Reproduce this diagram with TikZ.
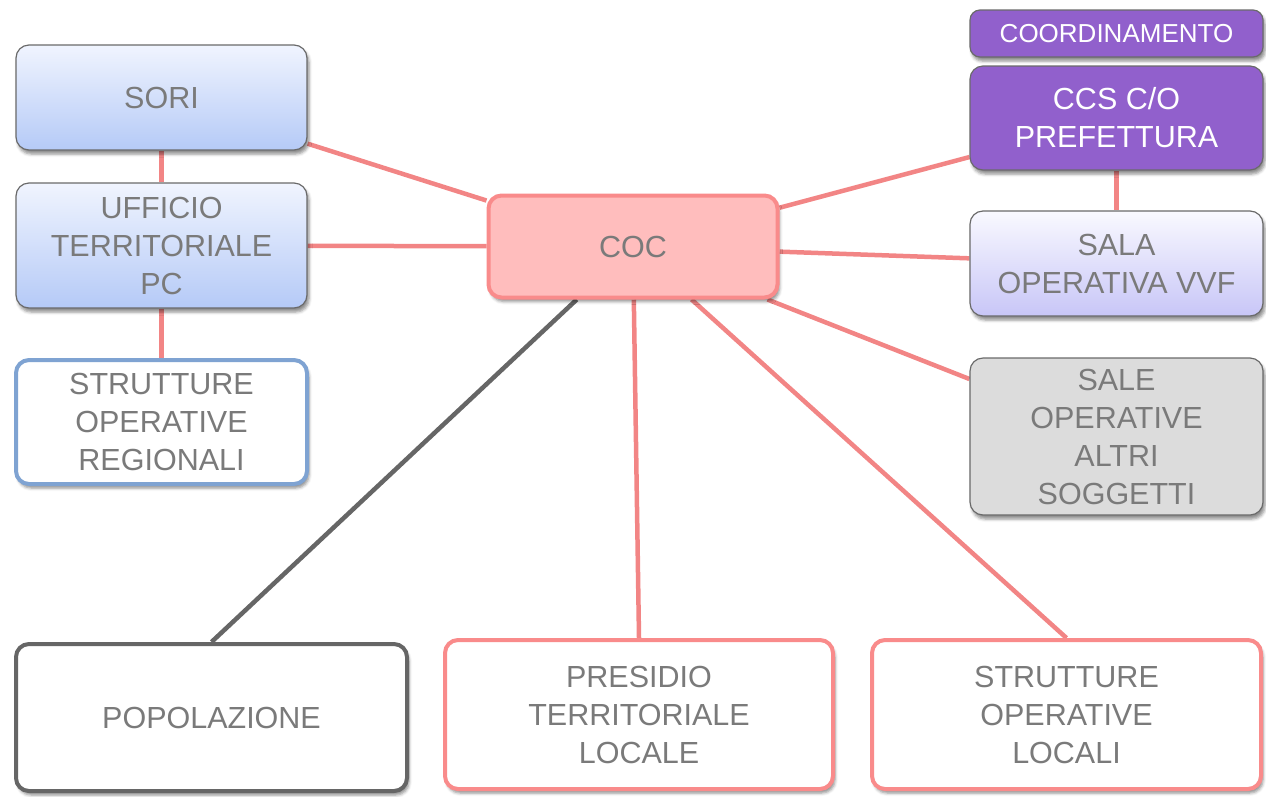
\documentclass[tikz,border=0pt]{standalone}
\usepackage{fontspec}
\setmainfont{Liberation Sans}
\usetikzlibrary{shadows,shadows.blur,backgrounds}
\definecolor{txt}{HTML}{7A7A7A}
\definecolor{pinkline}{HTML}{F28585}
\definecolor{pinkfill}{HTML}{FFBDBD}
\definecolor{pinkborder}{HTML}{F98B8B}
\definecolor{bluetop}{HTML}{F0F4FE}
\definecolor{bluebot}{HTML}{B5CAF7}
\definecolor{blueborder}{HTML}{7FA3D2}
\definecolor{lavtop}{HTML}{F9F9FF}
\definecolor{lavbot}{HTML}{C8C6F7}
\definecolor{purp}{HTML}{9160CC}
\definecolor{greyfill}{HTML}{DCDCDC}
\definecolor{thinborder}{HTML}{6A6A6A}
\definecolor{darkline}{HTML}{666666}
\tikzset{
  box/.style={rounded corners=13pt, inner sep=0pt, align=center, text=txt,
    font=\fontsize{30.5}{38}\selectfont,
    blur shadow={shadow xshift=2pt, shadow yshift=-4pt, shadow blur radius=3pt, shadow opacity=45}},
  thinbox/.style={box, draw=thinborder, line width=1.2pt},
  thickbox/.style={box, line width=4pt, fill=white},
  conn/.style={draw=pinkline, line width=4.5pt},
  darkconn/.style={draw=darkline, line width=4.5pt},
}
\begin{document}
\begin{tikzpicture}[x=1pt,y=-1pt]
\useasboundingbox (0,0) rectangle (1266,796);
% nodes
\node[thinbox, top color=bluetop, bottom color=bluebot, minimum width=291pt, minimum height=105pt] (sori) at (161.5,97.5) {SORI};
\node[thinbox, top color=bluetop, bottom color=bluebot, minimum width=291pt, minimum height=125pt] (uff) at (161.5,245.5) {UFFICIO\\TERRITORIALE\\PC};
\node[thickbox, draw=blueborder, minimum width=291pt, minimum height=124pt] (sor) at (161.5,422) {STRUTTURE\\OPERATIVE\\REGIONALI};
\node[thickbox, draw=pinkborder, fill=pinkfill, minimum width=289pt, minimum height=102pt] (coc) at (633,246.5) {COC};
\node[thinbox, fill=purp, text=white, font=\fontsize{26}{30}\selectfont, rounded corners=10pt, minimum width=293pt, minimum height=47pt] (coord) at (1116.5,33.5) {COORDINAMENTO};
\node[thinbox, fill=purp, text=white, minimum width=293pt, minimum height=104pt] (ccs) at (1116.5,118) {CCS C/O\\PREFETTURA};
\node[thinbox, top color=lavtop, bottom color=lavbot, minimum width=293pt, minimum height=105pt] (sala) at (1116.5,263.5) {SALA\\OPERATIVA VVF};
\node[thinbox, fill=greyfill, minimum width=293pt, minimum height=157pt] (sale) at (1116.5,436.5) {SALE\\OPERATIVE\\ALTRI\\SOGGETTI};
\node[thickbox, draw=darkline, minimum width=391pt, minimum height=147pt] (pop) at (211.5,717.5) {POPOLAZIONE};
\node[thickbox, draw=pinkborder, minimum width=388pt, minimum height=149pt] (pres) at (639,714.5) {PRESIDIO\\TERRITORIALE\\LOCALE};
\node[thickbox, draw=pinkborder, minimum width=389pt, minimum height=149pt] (sol) at (1066.5,714.5) {STRUTTURE\\OPERATIVE\\LOCALI};
% connectors
\begin{scope}[on background layer]
\draw[conn] (sori) -- (coc);
\draw[conn] (uff) -- (coc);
\draw[conn] (sori) -- (uff);
\draw[conn] (uff) -- (sor);
\draw[conn] (ccs) -- (coc);
\draw[conn] (ccs) -- (sala);
\draw[conn] (sala) -- (coc);
\draw[conn] (sale) -- (coc);
\draw[darkconn] (coc) -- (pop.north);
\draw[conn] (coc) -- (pres.north);
\draw[conn] (coc) -- (sol.north);
\end{scope}
\end{tikzpicture}
\end{document}
